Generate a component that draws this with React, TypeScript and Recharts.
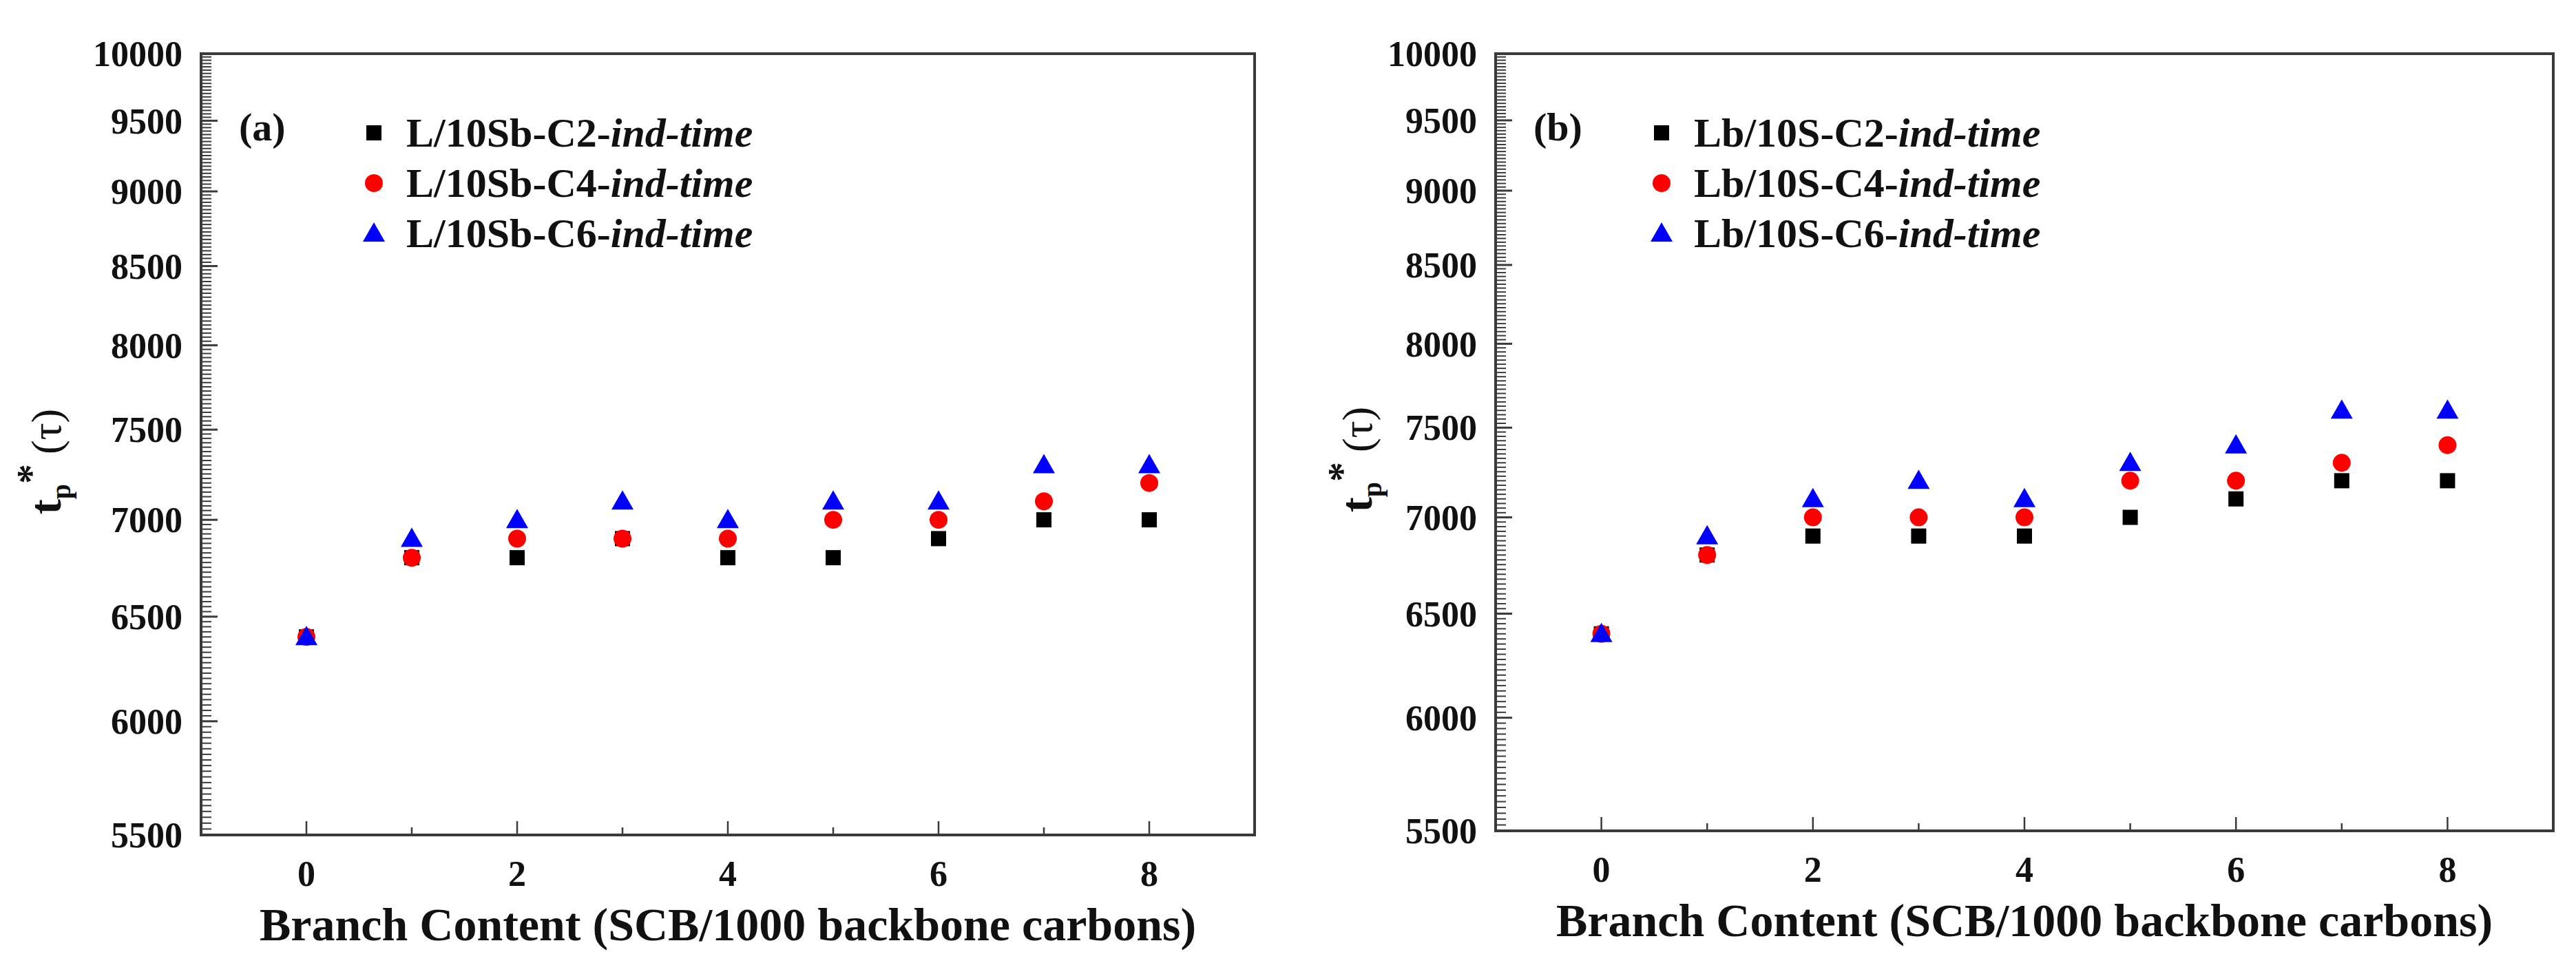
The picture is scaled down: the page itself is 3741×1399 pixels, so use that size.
import React from 'react'
import { ScatterChart, Scatter, XAxis, YAxis, ReferenceArea, Label, Legend } from 'recharts'

// shared x positions (SCB / 1000 backbone carbons)
const branch = [0, 1, 2, 3, 4, 5, 6, 7, 8]
const xTicks = [0, 1, 2, 3, 4, 5, 6, 7, 8]
const xLabelTicks = [0, 2, 4, 6, 8]
const yMajor = [5500, 6000, 6500, 7000, 7500, 8000, 8500, 9000, 9500, 10000]
const yMinorStep = 25

// panel (a)
const aNames = ['L/10Sb-C2-', 'L/10Sb-C4-', 'L/10Sb-C6-']
const aC2 = [6400, 6800, 6800, 6900, 6800, 6800, 6900, 7000, 7000]
const aC4 = [6400, 6800, 6900, 6900, 6900, 7000, 7000, 7100, 7200]
const aC6 = [6400, 6900, 7000, 7100, 7000, 7100, 7100, 7300, 7300]

// panel (b)
const bNames = ['Lb/10S-C2-', 'Lb/10S-C4-', 'Lb/10S-C6-']
const bC2 = [6400, 6800, 6900, 6900, 6900, 7000, 7100, 7200, 7200]
const bC4 = [6400, 6800, 7000, 7000, 7000, 7200, 7200, 7300, 7400]
const bC6 = [6400, 6900, 7100, 7200, 7100, 7300, 7400, 7600, 7600]

const kinds = ['square', 'circle', 'triangle'] as const
const colors = ['#000000', '#ff0000', '#0000ff']

const FONT = '"Liberation Serif", "Times New Roman", serif'
const AXIS = '#3a3a3a'

const yTicks: number[] = []
for (let v = yMajor[0]; v <= yMajor[yMajor.length - 1]; v += yMinorStep) yTicks.push(v)

const toPoints = (ys: number[]) => branch.map((x, i) => ({ x, y: ys[i] }))

const Marker = ({ kind, cx, cy, color }: { kind: string; cx: number; cy: number; color: string }) => {
  if (kind === 'square') return <rect x={cx - 11} y={cy - 11} width={22} height={22} fill={color} />
  if (kind === 'circle') return <circle cx={cx} cy={cy} r={13} fill={color} />
  return (
    <polygon
      points={`${cx},${cy - 16} ${cx - 16},${cy + 12} ${cx + 16},${cy + 12}`}
      fill={color}
    />
  )
}

const YTick = (props: any) => {
  const { x, y, payload } = props
  const major = yMajor.includes(payload.value)
  return (
    <g>
      <line x1={x} y1={y} x2={x + (major ? 24 : 15)} y2={y} stroke={AXIS} strokeWidth={major ? 3 : 2} />
      {major && (
        <text x={x - 27} y={y} dy="0.35em" textAnchor="end" fontFamily={FONT} fontWeight="bold" fontSize={52} fill="#111">
          {payload.value}
        </text>
      )}
    </g>
  )
}

const XTick = (props: any) => {
  const { x, y, payload } = props
  const major = xLabelTicks.includes(payload.value)
  return (
    <g>
      <line x1={x} y1={y} x2={x} y2={y - (major ? 20 : 11)} stroke={AXIS} strokeWidth={2.5} />
      {major && (
        <text x={x} y={y + 74} textAnchor="middle" fontFamily={FONT} fontWeight="bold" fontSize={52} fill="#111">
          {payload.value}
        </text>
      )}
    </g>
  )
}

interface PanelProps {
  left: number
  width: number
  margin: { top: number; right: number; bottom: number; left: number }
  tag: string
  names: string[]
  series: number[][]
  yTitleGap: number
}

const Panel: React.FC<PanelProps> = ({ left, width, margin, tag, names, series, yTitleGap }) => {
  const renderLegend = () => (
    <svg width={720} height={250}>
      {names.map((n, i) => (
        <g key={n}>
          <Marker kind={kinds[i]} cx={43} cy={55 + i * 73} color={colors[i]} />
          <text x={90} y={55 + i * 73 + 20} fontFamily={FONT} fontWeight="bold" fontSize={60} fill="#111">
            {n}
            <tspan fontStyle="italic">ind-time</tspan>
          </text>
        </g>
      ))}
    </svg>
  )

  return (
    <div style={{ position: 'absolute', left, top: 0 }}>
      <ScatterChart width={width} height={1399} margin={margin}>
        <XAxis
          type="number"
          dataKey="x"
          domain={[-1, 9]}
          allowDataOverflow
          ticks={xTicks}
          interval={0}
          tick={<XTick />}
          tickLine={false}
          tickSize={0}
          tickMargin={0}
          axisLine={false}
          height={100}
        >
          <Label
            content={(p: any) => {
              const vb = p.viewBox
              return (
                <text x={vb.x + vb.width / 2} y={vb.y + 153} textAnchor="middle" fontFamily={FONT} fontWeight="bold" fontSize={68} fill="#111">
                  Branch Content (SCB/1000 backbone carbons)
                </text>
              )
            }}
          />
        </XAxis>
        <YAxis
          type="number"
          dataKey="y"
          scale="log"
          domain={[5500, 10000]}
          allowDataOverflow
          ticks={yTicks}
          interval={0}
          tick={<YTick />}
          tickLine={false}
          tickSize={0}
          tickMargin={0}
          axisLine={false}
          width={200}
        >
          <Label
            content={(p: any) => {
              const vb = p.viewBox
              const cx = vb.x + vb.width - yTitleGap
              const cy = vb.y + vb.height / 2 + 25
              return (
                <text transform={`rotate(-90 ${cx} ${cy})`} x={cx} y={cy} textAnchor="middle" fontFamily={FONT} fontWeight="bold" fontSize={66} fill="#111">
                  t
                  <tspan dy={14} fontSize={40}>p</tspan>
                  <tspan dy={-38} fontSize={58}>*</tspan>
                  <tspan dy={24} dx={14} fontWeight="normal" fontSize={62}>(τ)</tspan>
                </text>
              )
            }}
          />
        </YAxis>
        <ReferenceArea x1={-1} x2={9} y1={5500} y2={10000} fill="none" stroke={AXIS} strokeWidth={4} ifOverflow="visible">
          <Label
            content={(p: any) => {
              const vb = p.viewBox
              return (
                <text x={vb.x + 55} y={vb.y + 126} fontFamily={FONT} fontWeight="bold" fontSize={58} fill="#111">
                  {tag}
                </text>
              )
            }}
          />
        </ReferenceArea>
        {series.map((s, i) => (
          <Scatter
            key={names[i]}
            name={names[i] + 'ind-time'}
            data={toPoints(s)}
            fill={colors[i]}
            isAnimationActive={false}
            shape={(p: any) => <Marker kind={kinds[i]} cx={p.cx} cy={p.cy} color={colors[i]} />}
          />
        ))}
        <Legend
          layout="vertical"
          align="center"
          verticalAlign="middle"
          content={renderLegend}
          wrapperStyle={{ position: 'absolute', left: 500, top: 138, width: 720, height: 250 }}
        />
      </ScatterChart>
    </div>
  )
}

export default function App() {
  return (
    <div style={{ position: 'absolute', left: 0, top: 0, width: 3741, height: 1399, background: '#fff' }}>
      <Panel
        left={0}
        width={1870}
        margin={{ top: 78, right: 48, bottom: 86, left: 92 }}
        tag="(a)"
        names={aNames}
        series={[aC2, aC4, aC6]}
        yTitleGap={204}
      />
      <Panel
        left={1870}
        width={1871}
        margin={{ top: 78, right: 33, bottom: 92, left: 102 }}
        tag="(b)"
        names={bNames}
        series={[bC2, bC4, bC6]}
        yTitleGap={180}
      />
    </div>
  )
}
